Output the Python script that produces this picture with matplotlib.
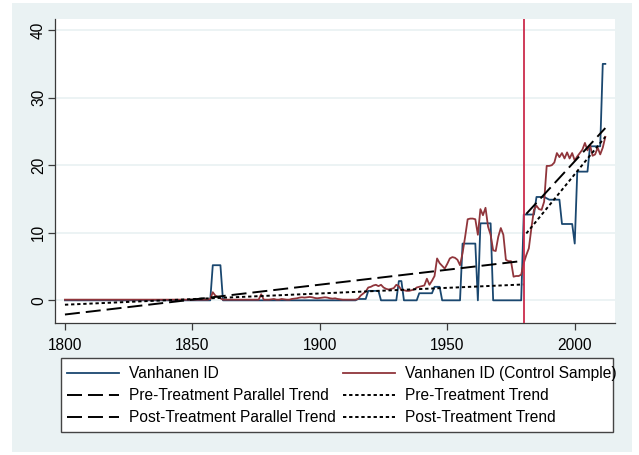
import matplotlib
matplotlib.use('Agg')
import matplotlib.pyplot as plt
from matplotlib.patches import Rectangle

plt.rcParams['font.family'] = ['Liberation Sans', 'DejaVu Sans']
plt.rcParams['lines.scale_dashes'] = False

# ---------------- data ----------------
years = list(range(1800, 2013))

vanhanen = [
    0, 0, 0, 0, 0, 0, 0, 0, 0, 0,            # 1800s
    0, 0, 0, 0, 0, 0, 0, 0, 0, 0,            # 1810s
    0, 0, 0, 0, 0, 0, 0, 0, 0, 0,            # 1820s
    0, 0, 0, 0, 0, 0, 0, 0, 0, 0,            # 1830s
    0, 0, 0, 0, 0, 0, 0, 0, 0, 0,            # 1840s
    0, 0, 0, 0, 0, 0, 0, 0, 5.2, 5.2,        # 1850s
    5.2, 5.2, 0, 0, 0, 0, 0, 0, 0, 0,        # 1860s
    0, 0, 0, 0, 0, 0, 0, 0, 0, 0,            # 1870s
    0, 0, 0, 0, 0, 0, 0, 0, 0, 0,            # 1880s
    0, 0, 0, 0, 0, 0, 0, 0, 0, 0,            # 1890s
    0, 0, 0, 0, 0, 0, 0, 0, 0, 0,            # 1900s
    0, 0, 0, 0, 0, 0.2, 0.2, 0.2, 0.2, 1.4,  # 1910s
    1.4, 1.4, 1.4, 1.4, 0, 0, 0, 0, 0, 0,    # 1920s
    0, 2.85, 2.85, 0, 0, 0, 0, 0, 0, 1.05,   # 1930s
    1.05, 1.05, 1.05, 1.05, 1.05, 2.0, 2.0, 2.0, 0, 0,  # 1940s
    0, 0, 0, 0, 0, 0, 8.4, 8.4, 8.4, 8.4,    # 1950s
    8.4, 8.4, 0, 11.4, 11.4, 11.4, 11.4, 11.4, 0, 0,    # 1960s
    0, 0, 0, 0, 0, 0, 0, 0, 0, 0,            # 1970s
    12.7, 12.7, 12.7, 12.7, 12.7, 15.3, 15.3, 15.3, 15.3, 15.1,  # 1980s
    14.9, 14.9, 14.9, 14.9, 14.9, 11.3, 11.3, 11.3, 11.3, 11.3,  # 1990s
    8.4, 19.05, 19.05, 19.05, 19.05, 19.05, 22.8, 22.8, 22.8, 22.8,  # 2000s
    22.8, 35.0, 35.0,                        # 2010-2012
]

control = [
    0.1, 0.1, 0.1, 0.1, 0.1, 0.1, 0.1, 0.1, 0.1, 0.1,   # 1800s
    0.1, 0.1, 0.1, 0.1, 0.1, 0.1, 0.1, 0.1, 0.1, 0.1,   # 1810s
    0.1, 0.1, 0.1, 0.1, 0.1, 0.1, 0.1, 0.1, 0.1, 0.1,   # 1820s
    0.1, 0.1, 0.1, 0.1, 0.1, 0.1, 0.1, 0.1, 0.1, 0.1,   # 1830s
    0.1, 0.1, 0.1, 0.1, 0.1, 0.1, 0.1, 0.1, 0.1, 0.1,   # 1840s
    0.1, 0.1, 0.1, 0.1, 0.1, 0.1, 0.1, 0.2, 1.2, 0.7,   # 1850s
    0.5, 0.3, 0.1, 0.1, 0.1, 0.1, 0.1, 0.1, 0.1, 0.1,   # 1860s
    0.1, 0.1, 0.1, 0.1, 0.1, 0.1, 0.1, 0.9, 0.1, 0.1,   # 1870s
    0.1, 0.15, 0.2, 0.1, 0.1, 0.2, 0.15, 0.1, 0.1, 0.2, # 1880s
    0.25, 0.3, 0.4, 0.45, 0.4, 0.45, 0.5, 0.45, 0.35, 0.3,  # 1890s
    0.35, 0.4, 0.45, 0.4, 0.3, 0.25, 0.3, 0.2, 0.15, 0.1,   # 1900s
    0.1, 0.1, 0.1, 0.1, 0.1, 0.2, 0.7, 1.0, 1.3, 1.9,   # 1910s
    2.0, 2.2, 2.3, 2.1, 2.3, 1.9, 1.7, 1.6, 1.7, 1.8,   # 1920s
    2.3, 2.1, 1.5, 1.5, 1.4, 1.4, 1.5, 1.6, 1.9, 2.0,   # 1930s
    2.1, 2.2, 3.2, 2.3, 2.9, 3.6, 6.2, 5.5, 5.1, 4.7,   # 1940s
    5.4, 6.2, 6.4, 6.3, 6.0, 5.2, 7.0, 9.4, 12.0, 12.1, # 1950s
    12.1, 12.0, 9.7, 13.5, 12.6, 13.7, 10.9, 9.7, 7.4, 7.3,  # 1960s
    9.4, 10.7, 9.7, 6.0, 5.8, 5.8, 3.5, 3.6, 3.6, 3.8,  # 1970s
    5.5, 6.7, 7.7, 10.7, 13.4, 14.0, 13.5, 13.4, 14.6, 19.9,  # 1980s
    19.9, 20.0, 20.4, 21.8, 21.2, 21.8, 21.0, 21.9, 21.0, 21.8,  # 1990s
    20.7, 21.3, 21.8, 22.3, 23.3, 22.2, 23.0, 21.4, 21.6, 22.6,  # 2000s
    21.6, 22.6, 24.2,                                    # 2010-2012
]

pre_par_years = [1800, 1980]
pre_par_vals = [-2.1, 5.85]
post_par_years = [1981, 2012]
post_par_vals = [12.8, 25.5]
pre_trend_years = [1800, 1980]
pre_trend_vals = [-0.65, 2.35]
post_trend_years = [1981, 2012]
post_trend_vals = [9.9, 24.2]

treatment_year = 1980

x_ticks = [1800, 1850, 1900, 1950, 2000]
y_ticks = [0, 10, 20, 30, 40]

labels = ["Vanhanen ID", "Vanhanen ID (Control Sample)",
          "Pre-Treatment Parallel Trend", "Pre-Treatment Trend",
          "Post-Treatment Parallel Trend", "Post-Treatment Trend"]

# ---------------- styling ----------------
W, H = 639, 455
BG = '#eaf2f3'
BLUE = '#1a476f'
RED = '#90353b'
VLINE = '#cc2c4c'
AXC = '#3a3a3a'
FS = 11.2
LONG = (0, (10.8, 4.3))
SHORT = (0, (2.4, 2.0))

fig = plt.figure(figsize=(W / 100, H / 100), dpi=100)
fig.patch.set_facecolor('white')
fig.patches.append(Rectangle((11.7 / W, 1 - 452 / H), (631.7 - 11.7) / W, (452 - 3.3) / H,
                             transform=fig.transFigure, facecolor=BG, edgecolor='none', zorder=-10))

ax = fig.add_axes([55 / W, 1 - 323.3 / H, (615 - 55) / W, (323.3 - 19.3) / H])
ax.set_facecolor('white')

h_blue, = ax.plot(years, vanhanen, color=BLUE, lw=1.3, zorder=3)
h_red, = ax.plot(years, control, color=RED, lw=1.3, zorder=4)
h_pp, = ax.plot(pre_par_years, pre_par_vals, color='black', lw=1.4, linestyle=LONG, zorder=5)
h_pt, = ax.plot(pre_trend_years, pre_trend_vals, color='black', lw=1.4, linestyle=SHORT, zorder=5)
h_qp, = ax.plot(post_par_years, post_par_vals, color='black', lw=1.4, linestyle=LONG, zorder=5)
h_qt, = ax.plot(post_trend_years, post_trend_vals, color='black', lw=1.4, linestyle=SHORT, zorder=5)
ax.axvline(treatment_year, color=VLINE, lw=1.3, zorder=6)

ax.set_xlim(1796.1, 2015.8)
ax.set_ylim(-3.4, 41.6)
ax.set_xticks(x_ticks)
ax.set_yticks(y_ticks)
ax.set_xticklabels([str(v) for v in x_ticks], fontsize=FS)
ax.set_yticklabels([str(v) for v in y_ticks], fontsize=FS, rotation=90, va='center')
ax.tick_params(axis='both', direction='out', length=5, width=0.9, color=AXC)
ax.tick_params(axis='x', pad=5.5)
ax.tick_params(axis='y', pad=1.5)
ax.yaxis.grid(True, color=BG, lw=1.3)
ax.set_axisbelow(True)
for s in ['top', 'right']:
    ax.spines[s].set_visible(False)
for s in ['left', 'bottom']:
    ax.spines[s].set_color(AXC)
    ax.spines[s].set_linewidth(0.9)

# legend box
fig.patches.append(Rectangle((61 / W, 1 - 432 / H), (613 - 61) / W, (432 - 358) / H,
                             transform=fig.transFigure, facecolor='white', edgecolor='#444444',
                             lw=1.0, zorder=-5))
handles = [h_blue, h_pp, h_qp, h_red, h_pt, h_qt]
leg_labels = [labels[0], labels[2], labels[4], labels[1], labels[3], labels[5]]
leg = fig.legend(handles, leg_labels, loc='upper left', bbox_to_anchor=(67 / W, 1 - 366 / H),
                 ncol=2, frameon=False, fontsize=FS, borderpad=0, borderaxespad=0,
                 handlelength=3.34, handletextpad=0.67, columnspacing=0.43, labelspacing=0.45)

fig.savefig('out.png', dpi=100, facecolor='white')
